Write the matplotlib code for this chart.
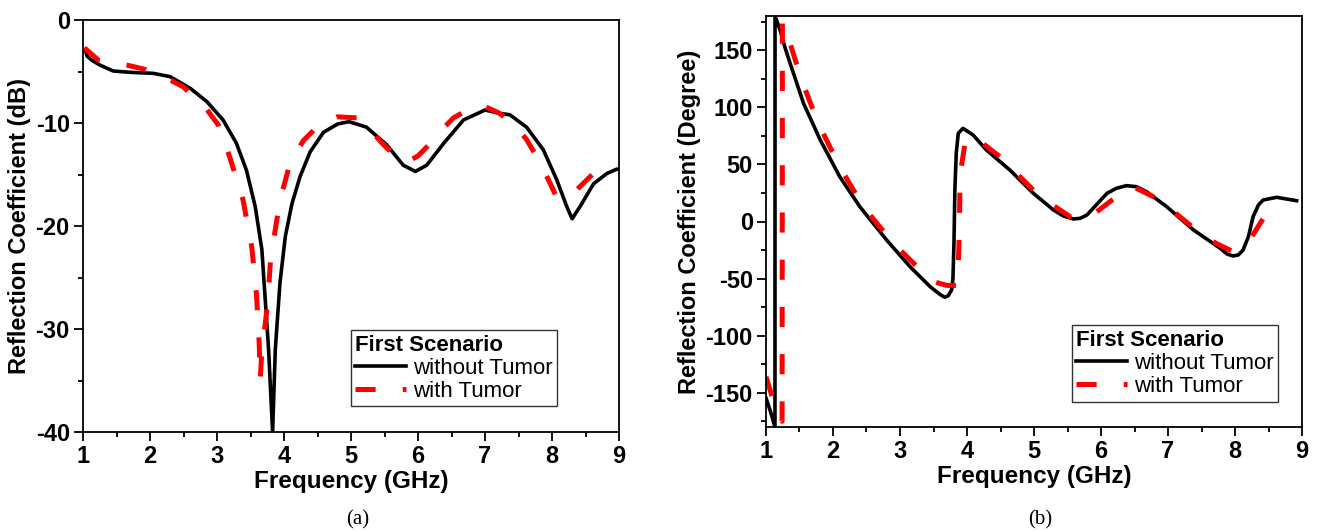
import matplotlib
matplotlib.use('Agg')
import matplotlib.pyplot as plt
from matplotlib.ticker import MultipleLocator

plt.rcParams['font.family'] = ['Liberation Sans', 'DejaVu Sans']
plt.rcParams['axes.unicode_minus'] = False
plt.rcParams['lines.scale_dashes'] = False

# (a) magnitude, dB
freq_a_without = [1.04, 1.06, 1.13, 1.25, 1.45, 1.70, 2.05, 2.30, 2.60, 2.85, 3.09, 3.29, 3.44,
                  3.57, 3.67, 3.77, 3.83, 3.87, 3.94, 4.02, 4.12, 4.24, 4.39, 4.59, 4.80, 4.97,
                  5.23, 5.53, 5.78, 5.96, 6.13, 6.38, 6.68, 7.00, 7.22, 7.37, 7.62, 7.87, 8.07,
                  8.22, 8.30, 8.42, 8.62, 8.82, 8.96, 9.0]
s11_a_without = [-3.0, -3.5, -3.9, -4.37, -4.95, -5.08, -5.18, -5.5, -6.63, -7.93, -9.7, -11.97,
                 -14.6, -18.1, -22.3, -32.0, -40.0, -32.0, -25.5, -21.0, -17.8, -15.2, -12.8,
                 -10.9, -10.1, -9.87, -10.4, -12.1, -14.1, -14.7, -14.1, -12.0, -9.7, -8.74,
                 -9.06, -9.2, -10.4, -12.6, -15.5, -18.1, -19.3, -18.1, -15.9, -14.9, -14.5, -14.45]
freq_a_with = [1.02, 1.23, 1.65, 1.93, 2.25, 2.50, 2.85, 3.02, 3.19, 3.39, 3.52, 3.59, 3.63,
               3.645, 3.67, 3.72, 3.76, 3.80, 3.94, 4.09, 4.29, 4.49, 4.64, 4.79, 5.09, 5.33,
               5.50, 5.68, 5.83, 6.00, 6.18, 6.35, 6.53, 6.83, 6.95, 7.20, 7.42, 7.62, 7.82,
               8.07, 8.15, 8.32, 8.79, 8.85]
s11_a_with = [-2.7, -3.9, -4.37, -4.8, -5.66, -6.5, -8.7, -10.2, -13.3, -17.5, -22.1, -26.7,
              -31.4, -35.0, -32.0, -29.5, -27.2, -23.2, -17.5, -13.9, -11.7, -10.4, -9.8, -9.4,
              -9.5, -11.0, -12.2, -13.3, -13.8, -13.2, -12.0, -10.7, -9.5, -8.4, -8.25, -9.0,
              -10.0, -11.6, -13.8, -17.2, -17.3, -16.8, -13.8, -13.5]

# (b) phase, degree
freq_b_without = [1.0, 1.07, 1.134, 1.135, 1.21, 1.28, 1.36, 1.56, 1.81, 2.10, 2.40, 2.80, 3.15,
                  3.45, 3.60, 3.67, 3.72, 3.77, 3.79, 3.805, 3.82, 3.84, 3.87, 3.94, 4.09, 4.29,
                  4.64, 4.99, 5.29, 5.44, 5.59, 5.69, 5.79, 6.09, 6.23, 6.38, 6.53, 6.68, 6.98,
                  7.38, 7.78, 7.88, 7.97, 8.05, 8.12, 8.20, 8.27, 8.35, 8.42, 8.62, 8.92]
phase_b_without = [-154.6, -167, -180, 180, 167.7, 153, 138.6, 103.5, 71.4, 39.3, 13.0, -16.2,
                   -39.6, -57.1, -64, -66.4, -65, -60, -50, -20, 30, 60, 77.3, 81.6, 75.8, 62.6,
                   45.1, 24.7, 10.1, 4.8, 2.2, 2.8, 5.7, 24.7, 29.1, 31.4, 30.5, 26.1, 13.0,
                   -7.4, -23.5, -28.5, -30.2, -29.3, -25, -13.3, 4.2, 14.5, 18.8, 21.2, 18.2]
freq_b_with = [1.0, 1.1, 1.2, 1.22, 1.24, 1.245, 1.26, 1.36, 1.53, 1.78, 2.10, 2.45, 2.90, 3.40,
               3.50, 3.70, 3.86, 3.88, 3.90, 3.97, 4.09, 4.49, 5.09, 5.54, 5.84, 6.23, 6.48,
               6.88, 7.18, 7.48, 7.73, 7.97, 8.22, 8.47, 8.67]
phase_b_with = [-136, -155, -170, -173, -175, 175, 169, 156, 124, 86, 48, 13, -19, -48, -52.7,
                -56, -56, -20, 42, 68.5, 75, 56.8, 21.7, 4.2, 4.2, 21.7, 30.5, 18.8, 4, -10.3,
                -19.5, -26.4, -16.2, 7.2, 20.3]

fig = plt.figure(figsize=(13.21, 5.32), dpi=100)
ax_a = fig.add_axes([83 / 1321, 100 / 532, 536 / 1321, 412 / 532])
ax_b = fig.add_axes([766 / 1321, 105 / 532, 536 / 1321, 411 / 532])


def style_axes(ax, ylabel, ymin, ymax, ymajor, yminor, leg_right):
    ax.set_xlim(1, 9)
    ax.set_ylim(ymin, ymax)
    ax.xaxis.set_major_locator(MultipleLocator(1))
    ax.xaxis.set_minor_locator(MultipleLocator(0.5))
    ax.yaxis.set_major_locator(MultipleLocator(ymajor))
    ax.yaxis.set_minor_locator(MultipleLocator(yminor))
    ax.tick_params(which='both', direction='out', top=False, right=False, width=1.3)
    ax.tick_params(which='major', length=6.5, labelsize=17, pad=3)
    ax.tick_params(which='minor', length=3.5)
    for lab in ax.get_xticklabels() + ax.get_yticklabels():
        lab.set_fontweight('bold')
    for sp in ax.spines.values():
        sp.set_linewidth(1.3)
    ax.set_xlabel('Frequency (GHz)', labelpad=1, fontweight='bold', fontsize=17.5)
    ax.set_ylabel(ylabel, labelpad=3, fontweight='bold', fontsize=17)
    leg = ax.legend(loc='lower right', bbox_to_anchor=(leg_right, 0.062), title='First Scenario',
                    fontsize=16, frameon=True, fancybox=False, edgecolor='black',
                    handlelength=2.3, borderpad=0.2, labelspacing=0.1, handletextpad=0.3,
                    borderaxespad=0)
    leg.get_title().set_fontweight('bold')
    leg.get_title().set_fontsize(16)
    leg._legend_box.align = 'left'
    leg.get_frame().set_linewidth(1.0)


ax_a.plot(freq_a_without, s11_a_without, color='black', lw=2.6, label='without Tumor')
ax_a.plot(freq_a_with, s11_a_with, color='red', lw=3.6, dashes=(14.5, 19.5), label='with Tumor')
style_axes(ax_a, 'Reflection Coefficient (dB)', -40, 0, 10, 5, 0.884)

ax_b.plot(freq_b_without, phase_b_without, color='black', lw=2.6, label='without Tumor')
ax_b.plot(freq_b_with, phase_b_with, color='red', lw=3.6, dashes=(14.5, 19.5), label='with Tumor')
style_axes(ax_b, 'Reflection Coefficient (Degree)', -180, 180, 50, 25, 0.955)

fig.text(358 / 1321, 1 - 520 / 532, '(a)', family='Liberation Serif', fontsize=15,
         ha='center', va='center')
fig.text(1040 / 1321, 1 - 520 / 532, '(b)', family='Liberation Serif', fontsize=15,
         ha='center', va='center')

fig.savefig('out.png', dpi=100)
